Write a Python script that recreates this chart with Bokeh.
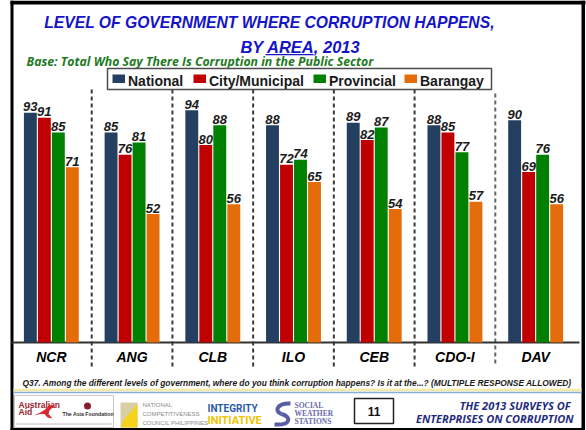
from bokeh.plotting import figure
from bokeh.models import FactorRange, Range1d, ColumnDataSource
from bokeh.transform import dodge
from bokeh.core.properties import value
from bokeh.embed import file_html
from bokeh.resources import INLINE

# ---------------- data ----------------
categories = ["NCR", "ANG", "CLB", "ILO", "CEB", "CDO-I", "DAV"]
series_names = ["National", "City/Municipal", "Provincial", "Barangay"]
national = [93, 85, 94, 88, 89, 88, 90]
city_municipal = [91, 76, 80, 72, 82, 85, 69]
provincial = [85, 81, 88, 74, 87, 77, 76]
barangay = [71, 52, 56, 65, 54, 57, 56]
series_values = [national, city_municipal, provincial, barangay]
series_colors = ["#243F60", "#C00000", "#008000", "#E46C0A"]

title_line1 = "LEVEL OF GOVERNMENT WHERE CORRUPTION HAPPENS,"
title_line2 = "BY AREA, 2013"
subtitle = "Base: Total Who Say There Is Corruption in the Public Sector"
question = ("Q37. Among the different levels of government, where do you think corruption "
            "happens?  Is it at the...? (MULTIPLE RESPONSE ALLOWED)")
footer_lines = ["THE 2013 SURVEYS OF", "ENTERPRISES ON CORRUPTION"]
page_number = "11"

# ---------------- layout helpers (slide pixel -> data coords) ----------------
W, H = 586, 430
RW, RH = 586.0, 430.0
PAD = 0.13
UNIT = RW / (len(categories) + 2 * PAD)
BASE, VS = 342.0, 2.47
SHIFT = 0.3   # baseline correction (fraction of font size)


def X(px):
    return px / UNIT - PAD


def Y(py):
    return (BASE - py) / VS


p = figure(width=W, height=H,
           x_range=FactorRange(factors=categories, range_padding=PAD,
                               range_padding_units="absolute"),
           y_range=Range1d(Y(RH), Y(0)),
           output_backend="svg", toolbar_location=None,
           x_axis_location=None, y_axis_location=None, min_border=0)
p.grid.visible = False
p.outline_line_color = None
p.background_fill_color = "white"
p.border_fill_color = "white"


def rect(x0, y0, x1, y1, fill="black", line=None, lw=1):
    p.quad(left=[X(x0)], right=[X(x1)], top=[Y(y0)], bottom=[Y(y1)],
           fill_color=fill, line_color=line, line_width=lw)


def txt(x, y, s, size, color, font="Liberation Sans", style="bold italic",
        align="left"):
    p.text(x=[X(x)], y=[Y(y)], text=[s], text_font=value(font),
           text_font_size=f"{size}px", text_font_style=style, text_color=color,
           text_align=align, text_baseline="alphabetic", y_offset=-SHIFT * size)


# ---------------- slide frame ----------------
rect(10, 0, 585, 4)
rect(10, 0, 13, 430)
rect(581, 0, 584.5, 430)
rect(10, 427.5, 584.5, 430)

# ---------------- titles ----------------
TITLE_BLUE = "#1414C8"
txt(269, 27, title_line1, 15.7, TITLE_BLUE, align="center")
txt(300, 51, title_line2, 16.5, TITLE_BLUE, align="center")
rect(265, 53.5, 313, 54.8, fill=TITLE_BLUE)
txt(26, 64.5, subtitle, 12.3, "#1E7A1E", font="Open Sans")

# ---------------- separators & axis line ----------------
for b in range(1, len(categories)):
    p.segment(x0=[b], x1=[b], y0=[Y(89 if b < 6 else 93)], y1=[Y(366)],
              line_color="#3A3A3A" if b < 6 else "#666666", line_width=2,
              line_dash="4 3")
p.segment(x0=[X(11)], x1=[X(579)], y0=[0], y1=[0], line_color="#333333",
          line_width=2)

# ---------------- bars ----------------
data = dict(cat=categories)
for k, vals in enumerate(series_values):
    data[f"v{k}"] = vals
    data[f"l{k}"] = [str(v) for v in vals]
src = ColumnDataSource(data)

step = 14.0 / UNIT
offsets = [-1.5 * step, -0.5 * step, 0.5 * step, 1.5 * step]
for k, col in enumerate(series_colors):
    p.vbar(x=dodge("cat", offsets[k], range=p.x_range), top=f"v{k}", bottom=0,
           width=12.9 / UNIT, fill_color=col, line_color=None, source=src)
for k in range(len(series_colors)):
    p.text(x=dodge("cat", offsets[k], range=p.x_range), y=f"v{k}", text=f"l{k}",
           source=src, text_font=value("Liberation Sans"), text_font_size="13px",
           text_font_style="bold italic", text_color="#1A1A1A",
           text_align="center", text_baseline="alphabetic",
           y_offset=-2 - SHIFT * 13)

# category labels
p.text(x="cat", y=Y(360.5), text="cat", source=src,
       text_font=value("Liberation Sans"), text_font_size="14px",
       text_font_style="bold italic", text_color="#000000",
       text_align="center", text_baseline="alphabetic", y_offset=-SHIFT * 14)

# ---------------- legend ----------------
rect(107, 68, 491, 89, fill="white", line="#4D4D4D", lw=1.5)
legend_x = [112, 193, 313, 404]
for k, name in enumerate(series_names):
    rect(legend_x[k], 74, legend_x[k] + 12.5, 82.5, fill=series_colors[k])
    txt(legend_x[k] + 15.5, 84.5, name, 14, "#1A1A1A", style="bold")

# ---------------- question ----------------
txt(22, 385, question, 8.4, "#1A1A1A")

# ---------------- footer ----------------
rect(13, 388.3, 581, 390.8, fill="#F5E9A6")
rect(13, 391.3, 581, 392.8, fill="#86AEDC")

# Australian Aid / The Asia Foundation
rect(14, 395, 113, 427, fill="white", line="#C8C8C8", lw=1)
txt(18, 407.5, "Australian", 8.5, "#9C1C2B", style="bold")
txt(18, 414, "Aid", 8.5, "#9C1C2B", style="bold")
kx = [33, 39, 44, 47, 49, 52, 54, 51, 49, 48, 52, 47, 44, 40]
ky = [415, 412.5, 409.5, 406.5, 404.5, 405, 406.5, 408, 410, 413.5, 418, 417, 413.5, 413.5]
p.patch(x=[X(v) for v in kx], y=[Y(v) for v in ky], fill_color="#D7282F",
        line_color=None)
p.scatter(x=[X(87)], y=[Y(405.5)], size=7, fill_color="#8B1E2D", line_color=None)
txt(62, 415.5, "The Asia Foundation", 5.2, "#333333", style="bold")
rect(16, 423, 111, 424, fill="#C0C0C0")

# National Competitiveness Council
rect(120, 402, 137, 427, fill="#D9CFA6")
p.patch(x=[X(137), X(137), X(120), X(124)], y=[Y(404), Y(427), Y(427), Y(418)],
        fill_color="#F5D31C", line_color=None)
txt(142, 406.5, "NATIONAL", 6, "#8A8A8A", style="normal")
txt(142, 415.5, "COMPETITIVENESS", 6, "#8A8A8A", style="normal")
txt(142, 424.5, "COUNCIL PHILIPPINES", 6, "#8A8A8A", style="normal")

# Integrity Initiative
txt(207, 410.5, "INTEGRITY", 10, "#2B5BA8", font="Roboto", style="bold")
txt(207, 423, "INITIATIVE", 11, "#F2C300", font="Roboto", style="bold")

# Social Weather Stations
p.bezier(x0=[X(290)], y0=[Y(403)], x1=[X(281)], y1=[Y(413.5)],
         cx0=[X(277)], cy0=[Y(402)], cx1=[X(273)], cy1=[Y(411)],
         line_color="#5A5DA5", line_width=4)
p.bezier(x0=[X(281)], y0=[Y(413.5)], x1=[X(274)], y1=[Y(424)],
         cx0=[X(291)], cy0=[Y(416)], cx1=[X(291)], cy1=[Y(425)],
         line_color="#5A5DA5", line_width=4)
txt(294, 407.5, "SOCIAL", 7.5, "#6A6AAA", font="Liberation Serif", style="bold")
txt(294, 415.5, "WEATHER", 7.5, "#6A6AAA", font="Liberation Serif", style="bold")
txt(294, 423.5, "STATIONS", 7.5, "#6A6AAA", font="Liberation Serif", style="bold")

# page number
rect(354, 398, 393, 423, fill="white", line="#222222", lw=1.5)
txt(373.5, 415, page_number, 12, "#111111", style="bold", align="center")

# survey title
txt(570, 408.5, footer_lines[0], 11, "#1F2C7E", font="Open Sans", align="right")
txt(573, 421.5, footer_lines[1], 11, "#1F2C7E", font="Open Sans", align="right")

open("out.html", "w").write(file_html(p, INLINE))
